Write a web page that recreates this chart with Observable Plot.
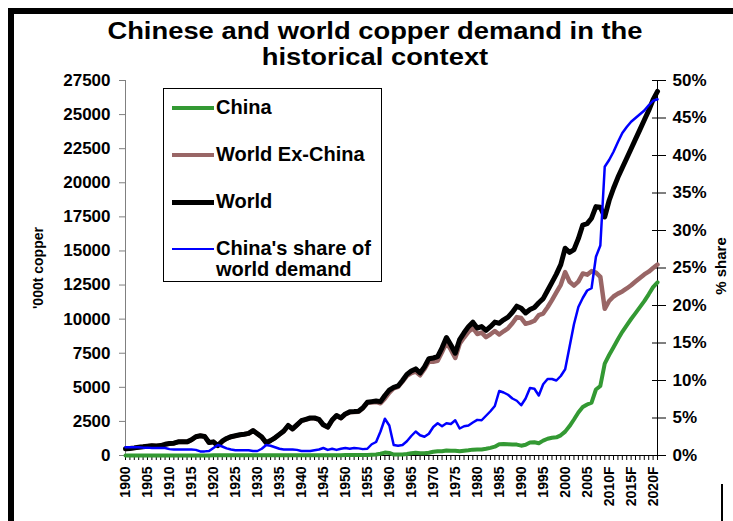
<!DOCTYPE html>
<html><head><meta charset="utf-8">
<script src="https://cdn.jsdelivr.net/npm/d3@7"></script>
<script src="https://cdn.jsdelivr.net/npm/@observablehq/plot@0.6"></script>
<style>
html,body{margin:0;padding:0;background:#fff;}
#wrap{position:relative;width:733px;height:521px;overflow:hidden;font-family:"Liberation Sans",Arial,sans-serif;font-weight:bold;color:#000;}
#chart{position:absolute;left:0;top:0;z-index:1;}
#title{position:absolute;left:29px;width:700px;top:18px;text-align:center;font-size:24px;line-height:26px;transform:scaleX(1.14);transform-origin:379px 0;z-index:2;}
#legend{position:absolute;left:163px;top:88px;width:219px;height:194px;border:1px solid #000;box-sizing:border-box;background:#fff;z-index:3;}
.sw{position:absolute;left:8px;width:42px;height:0;}
.lab{position:absolute;left:52px;white-space:nowrap;font-size:20px;line-height:21px;}
.rot{position:absolute;white-space:nowrap;transform:translate(-50%,-50%) rotate(-90deg);z-index:3;}
</style></head><body>
<div id="wrap">
  <div id="chart"></div>
  <div id="title">Chinese and world copper demand in the<br>historical context</div>
  <div id="legend"></div>
  <div class="rot" style="left:38px;top:268px;font-size:14px">'000t copper</div>
  <div class="rot" style="left:720px;top:266px;font-size:15px">% share</div>
</div>
<script>
const years = d3.range(1900, 2022);
const world = [
490,520,560,610,640,680,720,700,730,820,
880,900,1000,1010,1000,1150,1380,1450,1400,950,
1000,730,1050,1250,1380,1450,1520,1560,1620,1830,
1600,1350,930,1100,1300,1550,1800,2200,1950,2250,
2550,2650,2750,2750,2650,2250,2080,2600,2930,2760,
3050,3200,3220,3250,3500,3900,3950,4000,3950,4400,
4800,5000,5100,5500,5950,6200,6350,6050,6500,7100,
7150,7250,7900,8650,8100,7500,8500,9000,9450,9780,
9350,9450,9170,9450,9780,9700,9950,10150,10500,10950,
10800,10450,10700,10850,11200,11500,12100,12700,13300,14000,
15200,14900,15100,15900,16900,17000,17400,18250,18200,17500,
18700,19600,20400,21100,21800,22500,23200,23900,24600,25300,26100,26700];
const china = [
5,5,5,5,6,6,6,6,6,7,
7,7,7,7,7,8,8,8,8,8,
10,10,10,10,10,10,10,10,10,10,
12,12,12,12,12,12,12,12,12,15,
15,15,15,18,20,20,15,20,20,22,
30,30,35,35,30,35,60,70,125,215,
190,70,65,75,110,160,200,165,160,205,
270,310,310,370,340,350,305,350,380,430,
440,440,490,560,650,830,840,820,800,800,
720,790,960,970,900,1090,1230,1300,1330,1480,
1750,2160,2640,3150,3550,3740,3880,4840,5100,6740,
7370,7940,8530,9070,9550,10010,10440,10880,11320,11820,12350,12700];
const exChina = [
485,515,555,605,634,674,714,694,724,813,
873,893,993,1003,993,1142,1372,1442,1392,942,
990,720,1040,1240,1370,1440,1510,1550,1610,1820,
1588,1338,918,1088,1288,1538,1788,2188,1938,2235,
2535,2635,2735,2732,2630,2230,2065,2580,2910,2738,
3020,3170,3185,3215,3470,3865,3890,3930,3825,4185,
4610,4930,5035,5425,5840,6040,6150,5885,6340,6895,
6880,6940,7590,8280,7760,7150,8195,8650,9070,9350,
8910,9010,8680,8890,9130,8870,9110,9330,9700,10150,
10080,9660,9740,9880,10300,10410,10870,11400,11970,12520,
13450,12740,12460,12750,13350,13260,13520,13410,13100,10760,
11330,11660,11870,12030,12250,12490,12760,13020,13280,13480,13750,14000];
const share = [
1.1,1.1,1.1,1.1,1.05,1.05,1.0,1.0,1.0,1.0,
0.85,0.8,0.8,0.8,0.8,0.8,0.75,0.55,0.55,0.6,
1.0,1.4,1.2,0.95,0.8,0.7,0.7,0.7,0.7,0.6,
0.6,0.9,1.4,1.3,1.1,0.9,0.8,0.8,0.8,0.75,
0.6,0.6,0.6,0.7,0.8,1.0,0.75,0.9,0.75,0.9,
1.0,0.9,1.0,0.95,0.85,0.9,1.5,1.8,3.2,4.9,
4.0,1.4,1.3,1.4,1.9,2.6,3.2,2.7,2.5,2.9,
3.8,4.3,3.9,4.3,4.2,4.7,3.6,3.9,4.0,4.4,
4.75,4.7,5.3,5.9,6.6,8.6,8.4,8.1,7.6,7.3,
6.7,7.6,9.0,8.9,8.0,9.5,10.2,10.2,10.0,10.6,
11.5,14.5,17.5,19.8,21.0,22.0,22.3,26.5,28.0,38.5,
39.4,40.5,41.8,43.0,43.8,44.5,45.0,45.5,46.0,46.7,47.3,47.5];

const leftTicks = [0,2500,5000,7500,10000,12500,15000,17500,20000,22500,25000,27500];
const shareTicks = [0,5,10,15,20,25,30,35,40,45,50];
const tickYears = [1900,1905,1910,1915,1920,1925,1930,1935,1940,1945,1950,1955,1960,1965,1970,1975,1980,1985,1990,1995,2000,2005,2010,2015,2020];
const tickLabels = ["1900","1905","1910","1915","1920","1925","1930","1935","1940","1945","1950","1955","1960","1965","1970","1975","1980","1985","1990","1995","2000","2005","2010F","2015F","2020F"];

const series = [
  {name:"China", key:"china", color:"#339933", width:4},
  {name:"World Ex-China", key:"exChina", color:"#996666", width:4.5},
  {name:"World", key:"world", color:"#000000", width:5},
  {name:"China's share of\nworld demand", key:"share", color:"#0000ff", width:2.5}
];

const yMax = 27500, shareMax = 50, k = yMax / shareMax;
const rows = years.map((year, i) => ({year, china: china[i], exChina: exChina[i], world: world[i], share: share[i]}));

// decorative outer frame of the chart object
function outerFrame() {
  const g = d3.create("svg:g");
  g.append("rect").attr("x", 8).attr("y", 8).attr("width", 6).attr("height", 513).attr("fill", "#000");
  g.append("rect").attr("x", 8).attr("y", 8).attr("width", 725).attr("height", 6).attr("fill", "#000");
  g.append("rect").attr("x", 721).attr("y", 484).attr("width", 2).attr("height", 37).attr("fill", "#000");
  return g.node();
}

const font = '"Liberation Sans", Arial, sans-serif';
const chart = Plot.plot({
  width: 733, height: 521,
  marginTop: 80, marginBottom: 66, marginLeft: 125, marginRight: 76,
  style: {fontFamily: font, fontWeight: "bold", color: "#000", background: "transparent"},
  x: {type: "linear", domain: [1900, 2021]},
  y: {domain: [0, yMax]},
  marks: [
    outerFrame,
    Plot.axisX({ticks: years, tickSize: 5, tickFormat: () => "", label: null, stroke: "#000"}),
    Plot.axisX({ticks: tickYears, tickSize: 0, tickPadding: 11, tickRotate: -90,
      tickFormat: d => tickLabels[tickYears.indexOf(d)], fontSize: 14, fontWeight: "bold", label: null, fill: "#000"}),
    Plot.axisY({ticks: leftTicks, tickSize: 6, tickPadding: 9, tickFormat: d => String(d),
      fontSize: 17, fontWeight: "bold", label: null, stroke: "#808080", fill: "#000"}),
    Plot.axisY({anchor: "right", ticks: shareTicks.map(s => s * k), tickSize: 8, tickPadding: 7,
      tickFormat: v => Math.round(v / k) + "%", fontSize: 17, fontWeight: "bold", label: null, stroke: "#000", fill: "#000"}),
    Plot.axisY({anchor: "right", ticks: shareTicks.map(s => s * k), tickSize: 6, dx: -6,
      tickFormat: () => "", label: null, stroke: "#000"}),
    Plot.ruleX([1900], {stroke: "#808080"}),
    Plot.ruleX([2021], {stroke: "#000"}),
    Plot.ruleY([0], {stroke: "#000"}),
    ...series.map(s => Plot.lineY(rows, {
      x: "year",
      y: s.key === "share" ? (d => d.share * k) : s.key,
      stroke: s.color, strokeWidth: s.width, strokeLinejoin: "round"
    }))
  ]
});
document.getElementById("chart").appendChild(chart);

// legend
const legend = document.getElementById("legend");
const rowsY = [19, 66, 113, 160];
series.forEach((s, i) => {
  const sw = document.createElement("div");
  sw.className = "sw";
  sw.style.top = (rowsY[i] - s.width / 2) + "px";
  sw.style.borderTop = s.width + "px solid " + s.color;
  legend.appendChild(sw);
  const lab = document.createElement("div");
  lab.className = "lab";
  lab.style.top = (rowsY[i] - 11) + "px";
  lab.innerHTML = s.name.replace("\n", "<br>");
  legend.appendChild(lab);
});
</script>
</body></html>
